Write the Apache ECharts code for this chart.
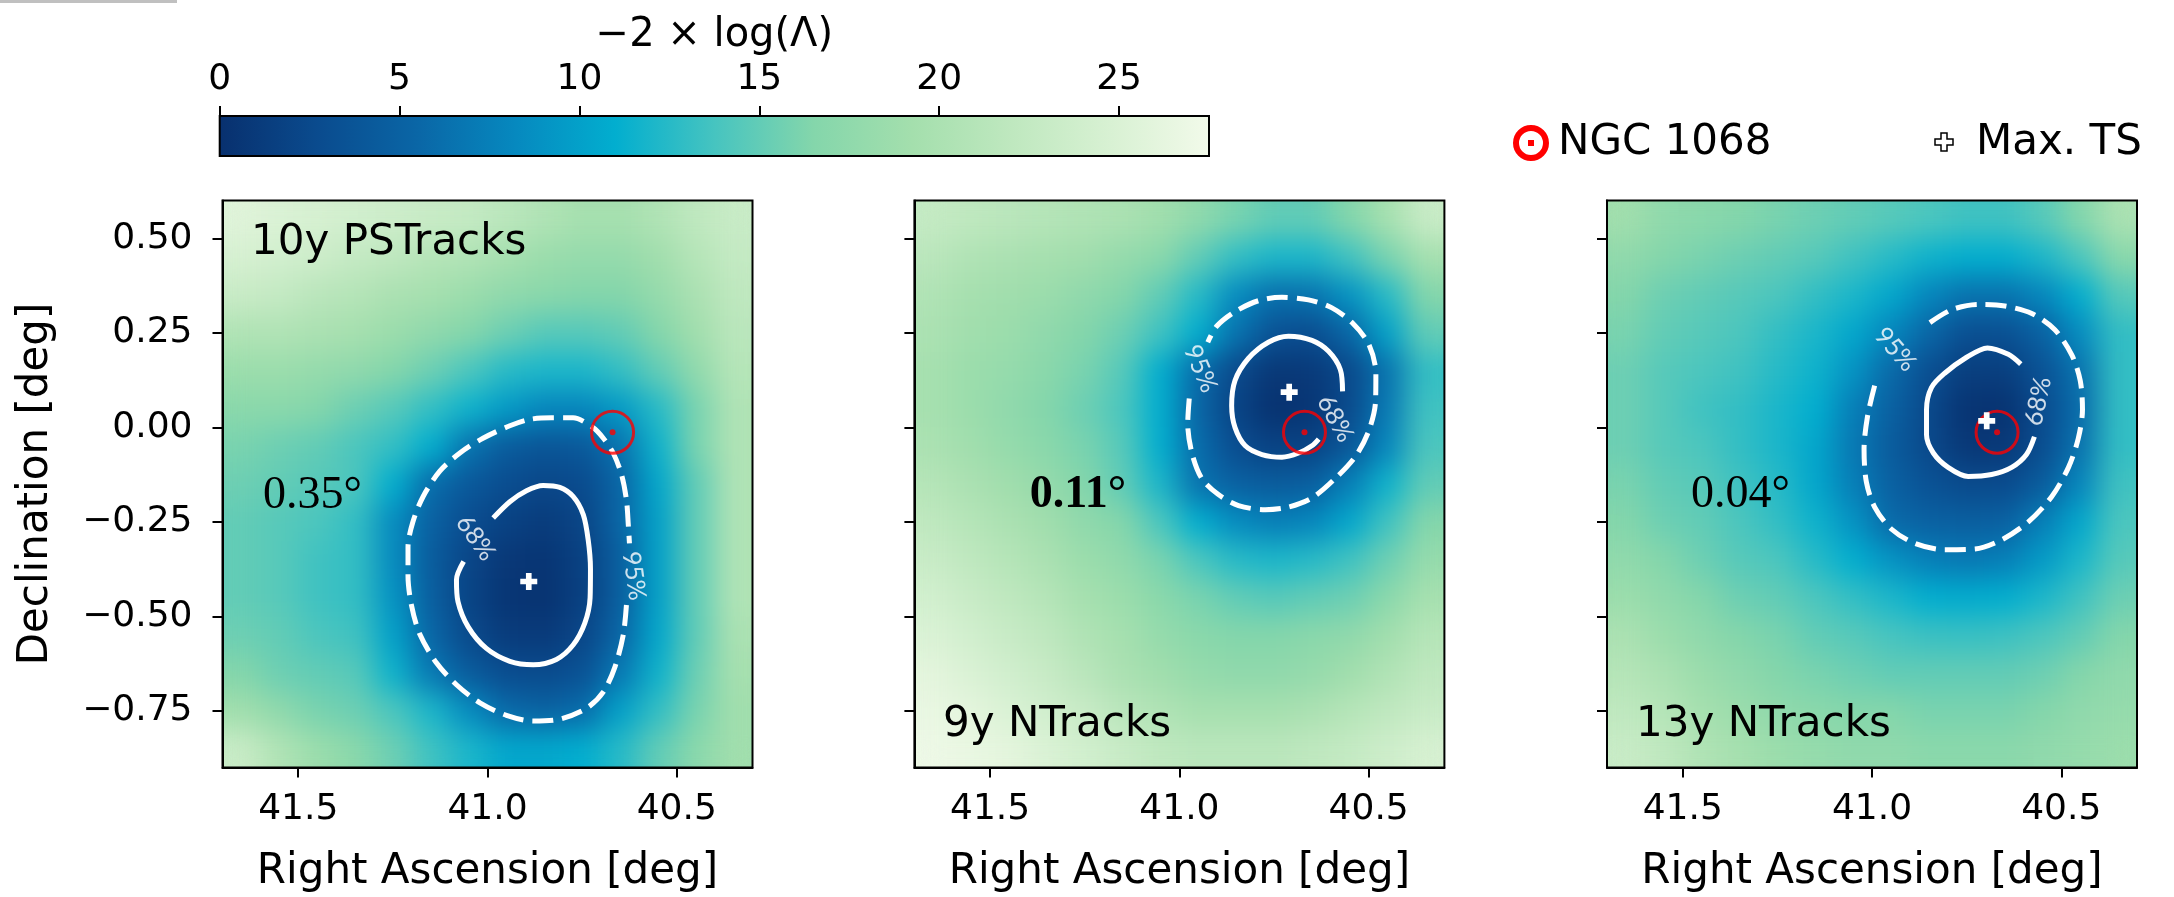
<!DOCTYPE html>
<html>
<head>
<meta charset="utf-8">
<title>NGC 1068 likelihood scans</title>
<script src="https://cdn.jsdelivr.net/npm/echarts@6/dist/echarts.min.js"></script>
<style>
  html, body { margin: 0; padding: 0; background: #ffffff; }
  #stage { position: relative; width: 2174px; height: 897px; overflow: hidden; background: #ffffff; }
  .clip { position: absolute; overflow: hidden; }
  .heat { position: absolute; left: 0; top: 0; width: 100%; height: 100%; filter: url(#smooth); }
  #main { position: absolute; left: 0; top: 0; width: 2174px; height: 897px; }
</style>
</head>
<body>
<!-- smooths the coarse likelihood grid; the alpha step renormalises the blur at the panel edges -->
<svg width="0" height="0" style="position:absolute">
  <defs>
    <filter id="smooth" x="-5%" y="-5%" width="110%" height="110%" color-interpolation-filters="sRGB">
      <feGaussianBlur stdDeviation="14"/>
      <feComponentTransfer>
        <feFuncA type="linear" slope="40" intercept="0"/>
      </feComponentTransfer>
    </filter>
  </defs>
</svg>
<div id="stage">
  <div class="clip" id="c0"><div class="heat" id="h0"></div></div>
  <div class="clip" id="c1"><div class="heat" id="h1"></div></div>
  <div class="clip" id="c2"><div class="heat" id="h2"></div></div>
  <div id="main"></div>
</div>
<script>
// ---------------- data ----------------
// cell centres of the -2 log(Lambda) scan (deg)
const RA_CENTERS  = [41.65, 41.55, 41.45, 41.35, 41.25, 41.15, 41.05, 40.95, 40.85, 40.75, 40.65, 40.55, 40.45, 40.35];
const DEC_CENTERS = [0.55, 0.45, 0.35, 0.25, 0.15, 0.05, -0.05, -0.15, -0.25, -0.35, -0.45, -0.55, -0.65, -0.75, -0.85];

// -2 log(Lambda), rows = DEC_CENTERS (top to bottom), columns = RA_CENTERS (left to right)
const TS_10Y_PSTRACKS = [
  [25.5, 25, 24.5, 24, 23.5, 23, 22.5, 21.5, 20.5, 19.5, 19.5, 20.5, 22, 23],
  [24.5, 24, 23.5, 22.5, 22, 21, 20.5, 19.5, 18.5, 18, 18, 19, 21, 22.5],
  [23, 22.5, 21.5, 21, 20, 19.5, 18.5, 17.5, 17, 16.5, 16.5, 18, 20, 22],
  [20.5, 20.5, 20, 19.5, 18.5, 17.5, 16.5, 15.5, 14.5, 14.5, 15, 16.5, 19, 21.5],
  [18.5, 18.5, 18, 17.5, 16.5, 15.5, 14, 12.5, 12, 12, 13, 15, 17.5, 21],
  [17, 17, 16.5, 15.5, 14.5, 13, 11.5, 9.5, 8, 8, 9.5, 12.5, 16, 20.5],
  [16, 15.5, 15, 14, 13, 11, 6.5, 4.5, 3.8, 4.2, 6.5, 11.5, 16, 20.5],
  [15.5, 15, 14.5, 14, 11, 6, 4.2, 3, 2.3, 2.8, 5.5, 10.5, 15, 20.5],
  [15, 14.5, 14, 13, 8.5, 5, 3, 1.8, 1.2, 2.1, 5.5, 10, 15, 20.5],
  [15, 14.5, 13.5, 13, 8.5, 4.5, 2.2, 0.8, 0.5, 1.7, 4.8, 10, 15, 20.5],
  [15, 14.5, 13.5, 13, 9, 4.8, 2, 0.5, 0.3, 1.6, 4.8, 10, 15, 20.5],
  [15.5, 15, 14, 13.5, 10, 5.5, 2.6, 1.2, 1.0, 2.2, 5.5, 10.5, 15, 20],
  [16.5, 15.5, 15, 14.5, 11.5, 7, 4.5, 3, 2.7, 3.5, 7, 11.5, 15.5, 19.5],
  [19, 17.5, 16, 15.5, 14, 12, 8.5, 5.8, 5.2, 6, 10, 13, 16, 19],
  [23, 20.5, 18.5, 17, 15.5, 13.5, 12, 10.5, 10.5, 11, 12.5, 15, 17, 19]
];
const TS_9Y_NTRACKS = [
  [22.5, 22, 21.5, 21, 20.5, 20, 19, 17.5, 16, 15, 15, 16.5, 19.5, 23],
  [21.5, 20.5, 20, 19.5, 19, 18, 17, 15, 13, 12, 12, 13.5, 16, 19.5],
  [20.5, 19.5, 19, 18.5, 17.5, 16.5, 15, 12.5, 8.5, 6.3, 6.5, 9, 12.5, 16.5],
  [20, 19, 18.5, 17.5, 16.5, 15.5, 13.5, 11, 6.5, 3.5, 3, 5.5, 10, 15],
  [19.5, 18.5, 18, 17, 16, 14.5, 11, 6, 2.6, 0.8, 1.0, 2.5, 6.5, 13],
  [19.5, 18.5, 17.5, 16.5, 15.5, 14, 11, 5.5, 2, 0.2, 0.6, 2.7, 7, 13.5],
  [20, 19, 18, 17, 16, 14.5, 11, 6, 3, 1.8, 2, 4, 8, 14],
  [21, 20, 19, 18, 16.5, 15, 12, 6.5, 5, 4.5, 4.8, 7.5, 11.5, 15],
  [22, 21, 20, 19, 17.5, 16.5, 14, 11, 8.5, 7.5, 8, 10.5, 13.5, 16.5],
  [23, 22, 21, 20, 18.5, 17.5, 16, 14, 12.5, 12, 12.5, 13.5, 15.5, 18],
  [24, 23, 22, 21, 19.5, 18.5, 17, 16, 15, 14.5, 15, 15.5, 17, 19.5],
  [25, 24, 23, 22, 20.5, 19.5, 18, 17, 16.5, 16.5, 17, 17.5, 19, 21],
  [26, 25, 24, 23, 21.5, 20, 19, 18, 17.5, 17.5, 18, 19, 20.5, 22],
  [26.5, 26, 25, 24, 23, 21.5, 20.5, 19.5, 19.5, 19.5, 20, 21, 22, 23],
  [27, 26.5, 26, 25, 24, 23, 22, 21.5, 21.5, 21.5, 22, 22.5, 23.5, 24.5]
];
const TS_13Y_NTRACKS = [
  [19, 17.5, 17, 16.5, 16, 15.5, 15, 14.5, 14, 13.5, 13.5, 14.5, 16.5, 20],
  [17.5, 16.5, 16, 15.5, 15, 14.5, 13.5, 12.5, 11.5, 11, 11, 12, 14, 17],
  [16.5, 15.5, 15, 14.5, 14, 13, 12, 10.5, 8, 6.5, 6.5, 8, 11, 14.5],
  [16, 15, 14.5, 14, 13, 12, 10.5, 8, 5.5, 3.2, 3.3, 5, 8.5, 13],
  [15.5, 14.5, 14, 13.5, 12.5, 11.5, 9, 5.8, 3.2, 1.5, 1.5, 3.5, 6.5, 13],
  [15.5, 14.5, 13.5, 13, 12, 11, 7.5, 5, 2.5, 0.4, 0.3, 2.8, 6, 13],
  [15.5, 14.5, 14, 13, 12, 10.5, 7, 4.5, 2.5, 0.8, 0.9, 3, 6.5, 13],
  [16, 15, 14.5, 13.5, 12.5, 10.5, 7.5, 5, 3.5, 2.7, 2.8, 4.5, 8, 13.5],
  [16.5, 15.5, 15, 14, 13, 11.5, 9, 5.8, 5, 4.8, 5, 7.5, 10.5, 14],
  [17.5, 16.5, 15.5, 14.5, 14, 12.5, 11, 9, 7.5, 7, 7.5, 9.5, 12, 14.5],
  [18.5, 17.5, 16.5, 15.5, 15, 14, 13, 12, 11, 10.8, 11, 12, 13.5, 15.5],
  [20, 18.5, 17.5, 16.5, 16, 15, 14.5, 13.8, 13.3, 13.2, 13.4, 14, 15, 16.5],
  [21, 20, 18.5, 17.5, 16.5, 16, 15.5, 15, 15, 15, 15, 15.5, 16.5, 17.5],
  [22, 21, 19.5, 18.5, 17.5, 17, 16.5, 16.5, 16, 16, 16, 16.5, 17.5, 18],
  [23, 22, 20.5, 19.5, 18.5, 18, 17.5, 17.5, 17, 17, 17, 17.5, 18, 18.5]
];

// confidence contours [RA, Dec]
const C95_10Y = [[40.633,-0.470],[40.641,-0.547],[40.663,-0.633],[40.694,-0.700],[40.738,-0.743],[40.809,-0.772],[40.879,-0.777],[40.950,-0.762],[41.020,-0.729],[41.082,-0.681],[41.135,-0.623],[41.179,-0.547],[41.201,-0.470],[41.210,-0.393],[41.210,-0.317],[41.197,-0.250],[41.170,-0.183],[41.126,-0.116],[41.073,-0.068],[41.012,-0.029],[40.941,0.004],[40.888,0.021],[40.831,0.025],[40.774,0.025],[40.721,-0.001],[40.694,-0.029],[40.668,-0.068],[40.646,-0.125],[40.633,-0.192],[40.628,-0.259],[40.625,-0.307]];
const C68_10Y = [[40.985,-0.240],[40.941,-0.197],[40.897,-0.168],[40.853,-0.154],[40.809,-0.159],[40.774,-0.183],[40.747,-0.231],[40.734,-0.298],[40.728,-0.374],[40.729,-0.451],[40.743,-0.518],[40.774,-0.576],[40.818,-0.614],[40.879,-0.628],[40.941,-0.619],[41.003,-0.585],[41.051,-0.528],[41.078,-0.461],[41.082,-0.403],[41.063,-0.355]];
const C95_9Y = [[40.974,0.076],[40.978,0.009],[40.967,-0.068],[40.941,-0.135],[40.897,-0.178],[40.844,-0.207],[40.773,-0.218],[40.712,-0.211],[40.650,-0.187],[40.588,-0.135],[40.535,-0.077],[40.500,-0.010],[40.482,0.067],[40.481,0.143],[40.500,0.220],[40.544,0.277],[40.597,0.316],[40.659,0.337],[40.729,0.344],[40.791,0.335],[40.853,0.306],[40.901,0.268],[40.925,0.225]];
const C68_9Y = [[40.569,0.095],[40.575,0.153],[40.606,0.201],[40.650,0.230],[40.712,0.241],[40.765,0.225],[40.818,0.182],[40.853,0.124],[40.862,0.057],[40.853,-0.001],[40.826,-0.049],[40.782,-0.072],[40.729,-0.079],[40.685,-0.068],[40.650,-0.049],[40.632,-0.031]];
const C95_13Y = [[40.993,0.110],[41.012,0.028],[41.021,-0.058],[41.015,-0.144],[40.993,-0.211],[40.949,-0.269],[40.887,-0.307],[40.808,-0.324],[40.728,-0.322],[40.658,-0.298],[40.587,-0.250],[40.525,-0.183],[40.481,-0.106],[40.455,-0.029],[40.444,0.047],[40.450,0.124],[40.472,0.191],[40.517,0.258],[40.578,0.301],[40.649,0.321],[40.719,0.325],[40.790,0.311],[40.847,0.277]];
const C68_13Y = [[40.607,0.167],[40.640,0.193],[40.695,0.210],[40.755,0.182],[40.808,0.143],[40.843,0.105],[40.856,0.047],[40.856,-0.020],[40.838,-0.068],[40.799,-0.106],[40.746,-0.130],[40.684,-0.125],[40.631,-0.106],[40.592,-0.072],[40.571,-0.025]];

// best-fit positions and the source position [RA, Dec]
const MAX_TS = [[40.891, -0.408], [40.710, 0.093], [40.697, 0.017]];
const NGC1068 = [40.6696, -0.0133];

// inline contour label anchors [RA, Dec] and text angles (deg)
const LABEL_68 = [[41.031, -0.293], [40.588, 0.023], [40.561, 0.069]];
const LABEL_95 = [[40.613, -0.393], [40.944, 0.155], [40.938, 0.206]];
const ROT_68 = [-55, -61, 78];
const ROT_95 = [-82, -67, -49];

const PANEL_NAMES = ['10y PSTracks', '9y NTracks', '13y NTracks'];
const ANGLE_TEXT = ['0.35°', '0.11°', '0.04°'];

const RA_TICKS = [40.5, 41.0, 41.5];
const DEC_TICKS = [-0.75, -0.5, -0.25, 0, 0.25, 0.5];
const CB_TICKS = [0, 5, 10, 15, 20, 25];
const CB_MAX = 27.5;
const COLORS = ['#08306e', '#0a4b8e', '#0a66a6', '#0689bf', '#02aecf', '#46c4c0', '#84d6ab', '#a4dfad', '#bfe8bf', '#d8f1d3', '#f2faea'];

// ---------------- layout ----------------
const FONT = 'DejaVu Sans';
const PANEL_LEFT = [222.5, 914.4, 1607];
const PANEL_TOP = 200.5, PANEL_W = 530, PANEL_H = 567;
const RA_RANGE = [40.3, 41.7], DEC_RANGE = [-0.9, 0.6];
const CB_BOX = { x: 219.7, y: 116, w: 989.3, h: 40 };

const TS_GRIDS = [TS_10Y_PSTRACKS, TS_9Y_NTRACKS, TS_13Y_NTRACKS];
const C95 = [C95_10Y, C95_9Y, C95_13Y];
const C68 = [C68_10Y, C68_9Y, C68_13Y];

// ---------------- heat layers ----------------
TS_GRIDS.forEach((grid, i) => {
  const clip = document.getElementById('c' + i);
  clip.style.left = PANEL_LEFT[i] + 'px';
  clip.style.top = PANEL_TOP + 'px';
  clip.style.width = PANEL_W + 'px';
  clip.style.height = PANEL_H + 'px';
  const cells = [];
  grid.forEach((row, r) => row.forEach((v, c) => cells.push([c, r, v])));
  const chart = echarts.init(document.getElementById('h' + i), null, { renderer: 'canvas' });
  chart.setOption({
    animation: false,
    grid: { left: 0, right: 0, top: 0, bottom: 0, outerBoundsMode: 'none' },
    xAxis: { type: 'category', data: RA_CENTERS.map(String), show: false },
    yAxis: { type: 'category', data: DEC_CENTERS.map(String), inverse: true, show: false },
    visualMap: { show: false, min: 0, max: CB_MAX, dimension: 2, inRange: { color: COLORS } },
    series: [{ type: 'heatmap', data: cells, progressive: 0, silent: true }]
  });
});

// ---------------- axes, contours, markers ----------------
const PLUS = 'path://M-1,-3L1,-3L1,-1L3,-1L3,1L1,1L1,3L-1,3L-1,1L-3,1L-3,-1L-1,-1Z';
const fmtDec = v => (v < 0 ? '\u2212' : '') + Math.abs(v).toFixed(2);
const tickStyle = { color: '#000', width: 2 };

const grids = PANEL_LEFT.map(left => ({
  left, top: PANEL_TOP, width: PANEL_W, height: PANEL_H,
  show: true, borderColor: '#000', borderWidth: 2, backgroundColor: 'transparent',
  outerBoundsMode: 'none'
}));
grids.push({ left: CB_BOX.x, top: CB_BOX.y, width: CB_BOX.w, height: CB_BOX.h, show: false, outerBoundsMode: 'none' });

const xAxes = PANEL_LEFT.map((_, i) => ({
  gridIndex: i, type: 'value', min: RA_RANGE[0], max: RA_RANGE[1], inverse: true,
  axisLine: { show: true, onZero: false, lineStyle: tickStyle },
  axisTick: { show: true, length: 10, lineStyle: tickStyle, customValues: RA_TICKS },
  axisLabel: { customValues: RA_TICKS, formatter: v => v.toFixed(1), fontSize: 36, color: '#000', fontFamily: FONT, margin: 24 },
  splitLine: { show: false },
  name: 'Right Ascension [deg]', nameLocation: 'middle', nameGap: 84,
  nameTextStyle: { fontSize: 42, color: '#000', fontFamily: FONT }
}));
xAxes.push({
  gridIndex: 3, type: 'value', position: 'top', min: 0, max: CB_MAX,
  axisLine: { show: false, onZero: false },
  axisTick: { show: true, length: 10, lineStyle: tickStyle, customValues: CB_TICKS },
  axisLabel: { customValues: CB_TICKS, fontSize: 36, color: '#000', fontFamily: FONT, margin: 18 },
  splitLine: { show: false },
  name: '\u22122 \u00d7 log(\u039b)', nameLocation: 'middle', nameGap: 60,
  nameTextStyle: { fontSize: 40, color: '#000', fontFamily: FONT }
});

const yAxes = PANEL_LEFT.map((_, i) => ({
  gridIndex: i, type: 'value', min: DEC_RANGE[0], max: DEC_RANGE[1],
  axisLine: { show: true, onZero: false, lineStyle: tickStyle },
  axisTick: { show: true, length: 10, lineStyle: tickStyle, customValues: DEC_TICKS },
  axisLabel: { show: i === 0, customValues: DEC_TICKS, formatter: fmtDec, fontSize: 36, color: '#000', fontFamily: FONT, margin: 30 },
  splitLine: { show: false },
  name: i === 0 ? 'Declination [deg]' : '', nameLocation: 'middle', nameGap: 165, nameRotate: 90,
  nameTextStyle: { fontSize: 42, color: '#000', fontFamily: FONT }
}));
yAxes.push({ gridIndex: 3, type: 'value', min: 0, max: 1, show: false });

const series = [];
PANEL_LEFT.forEach((_, i) => {
  const ax = { xAxisIndex: i, yAxisIndex: i };
  series.push({
    ...ax, type: 'line', name: '95%', data: C95[i], symbol: 'none', smooth: 0.3, silent: true, z: 3,
    lineStyle: { color: '#ffffff', width: 5, type: [21, 9] }
  });
  series.push({
    ...ax, type: 'line', name: '68%', data: C68[i], symbol: 'none', smooth: 0.3, silent: true, z: 3,
    lineStyle: { color: '#ffffff', width: 5 }
  });
  series.push({
    ...ax, type: 'scatter', name: 'NGC 1068', data: [NGC1068], symbol: 'circle', symbolSize: 42, silent: true, z: 5,
    itemStyle: { color: 'rgba(0,0,0,0)', borderColor: '#ff0000', borderWidth: 3 }
  });
  series.push({
    ...ax, type: 'scatter', name: 'NGC 1068 centre', data: [NGC1068], symbol: 'circle', symbolSize: 6, silent: true, z: 6,
    itemStyle: { color: '#ff0000' }
  });
  series.push({
    ...ax, type: 'scatter', name: 'Max. TS', data: [MAX_TS[i]], symbol: PLUS, symbolSize: 17, silent: true, z: 6,
    itemStyle: { color: '#ffffff', opacity: 1 }
  });
  series.push({
    ...ax, type: 'scatter', name: 'levels', symbolSize: 1, silent: true, z: 7,
    itemStyle: { color: 'rgba(0,0,0,0)' },
    label: { show: true, position: 'inside', formatter: '{b}', color: '#ffffff', fontSize: 25, fontFamily: 'Lato' },
    data: [
      { name: '68%', value: LABEL_68[i], label: { rotate: ROT_68[i] } },
      { name: '95%', value: LABEL_95[i], label: { rotate: ROT_95[i] } }
    ]
  });
});
series.push({ type: 'scatter', xAxisIndex: 3, yAxisIndex: 3, data: [], silent: true });

// ---------------- free text, colour bar, legend ----------------
const graphics = [];
graphics.push({ type: 'rect', shape: { x: 0, y: 0, width: 177, height: 3 }, style: { fill: '#c0c0c0' }, silent: true });
graphics.push({
  type: 'rect', shape: { x: CB_BOX.x, y: CB_BOX.y, width: CB_BOX.w, height: CB_BOX.h }, silent: true, z: 1,
  style: {
    fill: { type: 'linear', x: 0, y: 0, x2: 1, y2: 0, colorStops: COLORS.map((c, k) => ({ offset: k / (COLORS.length - 1), color: c })) },
    stroke: '#000', lineWidth: 2
  }
});
const TITLE_POS = [[28.5, 243.5], [28.6, 725.5], [29, 725.5]];
const ANGLE_POS = [[40.5, 496], [115.3, 495.5], [84, 494.5]];
PANEL_LEFT.forEach((left, i) => {
  graphics.push({
    type: 'text', x: left + TITLE_POS[i][0], y: TITLE_POS[i][1], silent: true, z: 20,
    style: { text: PANEL_NAMES[i], fontSize: 42, fontFamily: FONT, fill: '#000', verticalAlign: 'middle', align: 'left' }
  });
  graphics.push({
    type: 'text', x: left + ANGLE_POS[i][0], y: ANGLE_POS[i][1], silent: true, z: 20,
    style: { text: ANGLE_TEXT[i], fontSize: 46, fontFamily: 'Liberation Serif', fontWeight: i === 1 ? 'bold' : 'normal', fill: '#000', verticalAlign: 'middle', align: 'left' }
  });
});
// legend: source ring and best-fit cross
const LEG_Y = 143;
graphics.push({ type: 'circle', shape: { cx: 1531, cy: LEG_Y, r: 15 }, style: { fill: 'none', stroke: '#ff0000', lineWidth: 6 }, silent: true, z: 20 });
graphics.push({ type: 'rect', shape: { x: 1528, y: LEG_Y - 3, width: 6, height: 6 }, style: { fill: '#ff0000' }, silent: true, z: 20 });
graphics.push({
  type: 'text', x: 1558, y: LEG_Y, silent: true, z: 20,
  style: { text: 'NGC 1068', fontSize: 42, fontFamily: FONT, fill: '#000', verticalAlign: 'middle' }
});
const pc = [1944, LEG_Y - 1], a = 3, b = 9;
graphics.push({
  type: 'polygon', silent: true, z: 20,
  shape: { points: [[-a,-b],[a,-b],[a,-a],[b,-a],[b,a],[a,a],[a,b],[-a,b],[-a,a],[-b,a],[-b,-a],[-a,-a]].map(p => [pc[0] + p[0], pc[1] + p[1]]) },
  style: { fill: '#ffffff', stroke: '#000', lineWidth: 1.5 }
});
graphics.push({
  type: 'text', x: 1976, y: LEG_Y, silent: true, z: 20,
  style: { text: 'Max. TS', fontSize: 42, fontFamily: FONT, fill: '#000', verticalAlign: 'middle' }
});

const main = echarts.init(document.getElementById('main'), null, { renderer: 'canvas' });
main.setOption({
  animation: false,
  backgroundColor: 'transparent',
  textStyle: { fontFamily: FONT },
  grid: grids,
  xAxis: xAxes,
  yAxis: yAxes,
  series,
  graphic: graphics
});
</script>
</body>
</html>
